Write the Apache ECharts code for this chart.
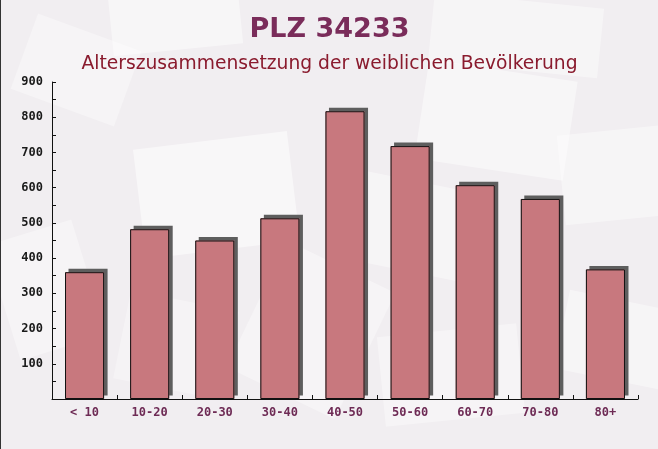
<!DOCTYPE html>
<html>
<head>
<meta charset="utf-8">
<script src="https://cdn.jsdelivr.net/npm/echarts@6/dist/echarts.min.js"></script>
<style>
html,body{margin:0;padding:0;background:#f1eef1;}
#c{width:658px;height:449px;box-sizing:border-box;border-left:1px solid #333;}
</style>
</head>
<body>
<div id="c"></div>
<script>
const titleText = 'PLZ 34233';
const subtitleText = 'Alterszusammensetzung der weiblichen Bevölkerung';
const categories = ['< 10', '10-20', '20-30', '30-40', '40-50', '50-60', '60-70', '70-80', '80+'];
const values = [360, 482, 450, 513, 817, 718, 607, 568, 368];
const yTicks = [0, 900, 100];

const chart = echarts.init(document.getElementById('c'), null, {renderer: 'canvas'});

function env(x, y, w, h, rot, op) {
  return {
    type: 'rect', x: x, y: y, rotation: rot, originX: w / 2, originY: h / 2,
    shape: {x: 0, y: 0, width: w, height: h}, silent: true, z: -10,
    style: {fill: 'rgba(255,255,255,' + op + ')'}
  };
}

const barColor = '#c8787e';

chart.setOption({
  backgroundColor: '#f1eef1',
  animation: false,
  graphic: [
    env(108, -40, 130, 90, 0.1, 0.45),
    env(20, 30, 110, 80, -0.35, 0.35),
    env(138, 140, 155, 110, 0.12, 0.5),
    env(420, 70, 150, 100, -0.15, 0.45),
    env(430, 0, 170, 70, -0.1, 0.4),
    env(340, 180, 130, 90, -0.2, 0.4),
    env(0, 230, 90, 120, 0.3, 0.35),
    env(250, 260, 120, 140, -0.45, 0.35),
    env(560, 130, 110, 90, 0.1, 0.4),
    env(560, 300, 110, 80, -0.2, 0.4),
    env(380, 330, 140, 90, 0.1, 0.35),
    env(120, 300, 110, 90, -0.2, 0.3)
  ],
  title: [
    {text: titleText, left: 'center', top: 11,
     textStyle: {fontFamily: 'DejaVu Sans', fontWeight: 'bold', fontSize: 27, color: '#7a2c5a'}},
    {text: subtitleText, left: 'center', top: 50,
     textStyle: {fontFamily: 'DejaVu Sans', fontWeight: 'normal', fontSize: 18.7, color: '#8a1b2e'}}
  ],
  grid: {left: 51, right: 20, top: 82, bottom: 50, containLabel: false},
  xAxis: {
    type: 'category', data: categories,
    axisLine: {lineStyle: {color: '#111', width: 1}},
    axisTick: {show: true, inside: true, length: 4, alignWithLabel: false, lineStyle: {color: '#111'}},
    axisLabel: {fontFamily: 'DejaVu Sans Mono', fontWeight: 'bold', fontSize: 12, color: '#6e2b55', margin: 8},
    splitLine: {show: false}
  },
  yAxis: {
    type: 'value', min: yTicks[0], max: yTicks[1], interval: yTicks[2],
    axisLine: {show: true, lineStyle: {color: '#111', width: 1}},
    axisTick: {show: true, inside: true, length: 4, lineStyle: {color: '#111'}},
    minorTick: {show: true, splitNumber: 2, length: 4, lineStyle: {color: '#111'}},
    axisLabel: {fontFamily: 'DejaVu Sans Mono', fontWeight: 'bold', fontSize: 12, color: '#1a1a1a', margin: 9,
      formatter: v => v === 0 ? '' : String(v)},
    splitLine: {show: false}
  },
  series: [
    {
      type: 'bar', data: values, barWidth: '60%', barGap: '-100%', z: 2,
      itemStyle: {
        color: barColor, borderWidth: 0,
        shadowColor: 'rgba(85,85,85,0.95)', shadowBlur: 0, shadowOffsetX: 3.5, shadowOffsetY: -3.5
      }
    },
    {
      type: 'bar', data: values, barWidth: '60%', barGap: '-100%', z: 3,
      itemStyle: {color: barColor, borderColor: '#111', borderWidth: 1}
    }
  ]
});
</script>
</body>
</html>
